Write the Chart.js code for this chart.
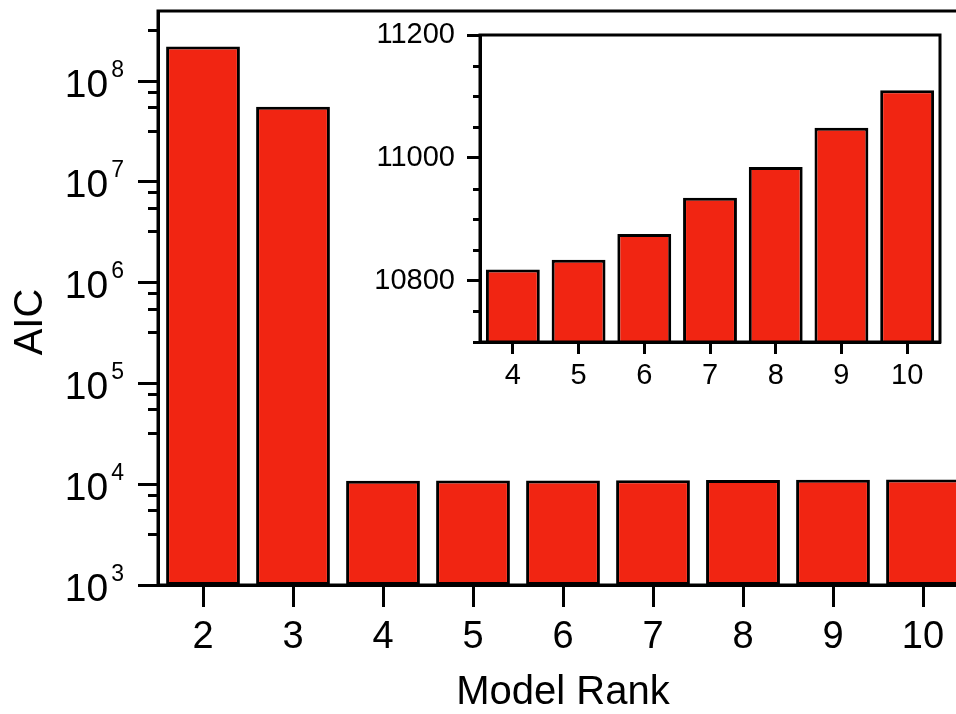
<!DOCTYPE html>
<html>
<head>
<meta charset="utf-8">
<script src="https://cdn.jsdelivr.net/npm/chart.js@4/dist/chart.umd.min.js"></script>
<style>
html, body { margin: 0; padding: 0; background: #fff; overflow: hidden; }
#wrap { position: relative; width: 956px; height: 714px; overflow: hidden; background: #fff; }
#main { position: absolute; left: 0; top: 0; }
#inset { position: absolute; left: 370px; top: 20px; }
</style>
</head>
<body>
<div id="wrap">
  <canvas id="main" width="975" height="714"></canvas>
  <canvas id="inset" width="580" height="380"></canvas>
</div>
<script>
// data
var ranks = ['2', '3', '4', '5', '6', '7', '8', '9', '10'];
var aicValues = [2.18e8, 5.52e7, 10818, 10834, 10876, 10935, 10985, 11049, 11110];
var insetRanks = ['4', '5', '6', '7', '8', '9', '10'];
var insetValues = [10818, 10834, 10876, 10935, 10985, 11049, 11110];
var yExponents = [3, 4, 5, 6, 7, 8];
var insetTicks = [10800, 11000, 11200];

var FONT = "'Liberation Sans', Arial, sans-serif";
var RED = '#f12512';
var minorFactors = [0.78, 0.55, 0.32];

// box round the plot area
var frameBox = {
    id: 'frameBox',
    afterDraw: function(chart){
        var a = chart.chartArea, ctx = chart.ctx;
        ctx.save();
        ctx.strokeStyle = '#000';
        ctx.lineWidth = 3;
        ctx.strokeRect(a.left, a.top, a.right - a.left, a.bottom - a.top);
        ctx.restore();
    }
};

// log axis ticks with 10^n labels
var logAxis = {
    id: 'logAxis',
    afterDraw: function(chart){
        var y = chart.scales.y, ctx = chart.ctx, left = chart.chartArea.left;
        ctx.save();
        ctx.strokeStyle = '#000';
        ctx.lineWidth = 3;
        function tick(v, len){
            if (v < y.min || v > y.max) return;
            var p = Math.round(y.getPixelForValue(v)) + 0.5;
            ctx.beginPath();
            ctx.moveTo(left - len, p);
            ctx.lineTo(left, p);
            ctx.stroke();
        }
        for (var n = 3; n <= 9; n++){
            var major = Math.pow(10, n);
            tick(major, 20);
            minorFactors.forEach(function(f){ tick(major * f, 10); });
        }
        ctx.fillStyle = '#000';
        ctx.textAlign = 'right';
        ctx.textBaseline = 'alphabetic';
        yExponents.forEach(function(n){
            var p = y.getPixelForValue(Math.pow(10, n));
            var e = String(n);
            ctx.font = '23px ' + FONT;
            var w = ctx.measureText(e).width;
            ctx.fillText(e, left - 34, p - 4);
            ctx.font = '39px ' + FONT;
            ctx.fillText('10', left - 34 - w - 3, p + 16);
        });
        // y title
        ctx.save();
        ctx.translate(31, 322);
        ctx.rotate(-Math.PI / 2);
        ctx.textAlign = 'center';
        ctx.textBaseline = 'middle';
        ctx.font = '40px ' + FONT;
        ctx.fillText('AIC', 0, 0);
        ctx.restore();
        ctx.restore();
    }
};

// short ticks every 50 on the inset
var insetMinor = {
    id: 'insetMinor',
    afterDraw: function(chart){
        var y = chart.scales.y, ctx = chart.ctx, left = chart.chartArea.left;
        ctx.save();
        ctx.strokeStyle = '#000';
        ctx.lineWidth = 3;
        for (var v = 10700; v <= 11200; v += 50){
            if (insetTicks.indexOf(v) >= 0) continue;
            var p = Math.round(y.getPixelForValue(v)) + 0.5;
            ctx.beginPath();
            ctx.moveTo(left - 7, p);
            ctx.lineTo(left, p);
            ctx.stroke();
        }
        ctx.restore();
    }
};

new Chart(document.getElementById('main'), {
    type: 'bar',
    data: {
        labels: ranks,
        datasets: [{
            data: aicValues,
            backgroundColor: RED,
            borderColor: '#000',
            borderWidth: 3,
            borderSkipped: false,
            barPercentage: 0.82,
            categoryPercentage: 1
        }]
    },
    options: {
        responsive: false,
        animation: false,
        layout: { padding: { top: 11, right: 7, bottom: 0, left: 0 } },
        plugins: { legend: { display: false }, tooltip: { enabled: false } },
        scales: {
            x: {
                grid: { display: true, drawOnChartArea: false, offset: false, tickLength: 22, tickWidth: 3, tickColor: '#000' },
                border: { display: true, width: 3, color: '#000' },
                ticks: { color: '#000', font: { family: FONT, size: 38 }, padding: 8, maxRotation: 0, autoSkip: false },
                title: { display: true, text: 'Model Rank', color: '#000', font: { family: FONT, size: 40, lineHeight: 1 }, padding: { top: 0, bottom: 1 } },
                afterFit: function(s){ s.height = 129; }
            },
            y: {
                type: 'logarithmic',
                min: 1000,
                max: 4.9e8,
                grid: { display: false },
                border: { display: true, width: 3, color: '#000' },
                ticks: { display: false },
                afterFit: function(s){ s.width = 158; }
            }
        }
    },
    plugins: [frameBox, logAxis]
});

new Chart(document.getElementById('inset'), {
    type: 'bar',
    data: {
        labels: insetRanks,
        datasets: [{
            data: insetValues,
            backgroundColor: RED,
            borderColor: '#000',
            borderWidth: 3,
            borderSkipped: false,
            barPercentage: 0.82,
            categoryPercentage: 1
        }]
    },
    options: {
        responsive: false,
        animation: false,
        layout: { padding: { top: 15, right: 10, bottom: 0, left: 0 } },
        plugins: { legend: { display: false }, tooltip: { enabled: false } },
        scales: {
            x: {
                grid: { display: true, drawOnChartArea: false, offset: false, tickLength: 12, tickWidth: 3, tickColor: '#000' },
                border: { display: true, width: 3, color: '#000' },
                ticks: { color: '#000', font: { family: FONT, size: 29 }, padding: 5, maxRotation: 0, autoSkip: false },
                afterFit: function(s){ s.height = 58; }
            },
            y: {
                min: 10700,
                max: 11200,
                afterBuildTicks: function(s){
                    s.ticks = insetTicks.map(function(v){ return { value: v }; });
                },
                grid: { display: true, drawOnChartArea: false, tickLength: 13, tickWidth: 3, tickColor: '#000' },
                border: { display: true, width: 3, color: '#000' },
                ticks: {
                    color: '#000',
                    font: { family: FONT, size: 29 },
                    padding: 12,
                    callback: function(v){ return String(v); }
                },
                afterFit: function(s){
                    s.width = 110;
                    s.paddingTop = 0;
                    s.paddingBottom = 0;
                }
            }
        }
    },
    plugins: [frameBox, insetMinor]
});
</script>
</body>
</html>
